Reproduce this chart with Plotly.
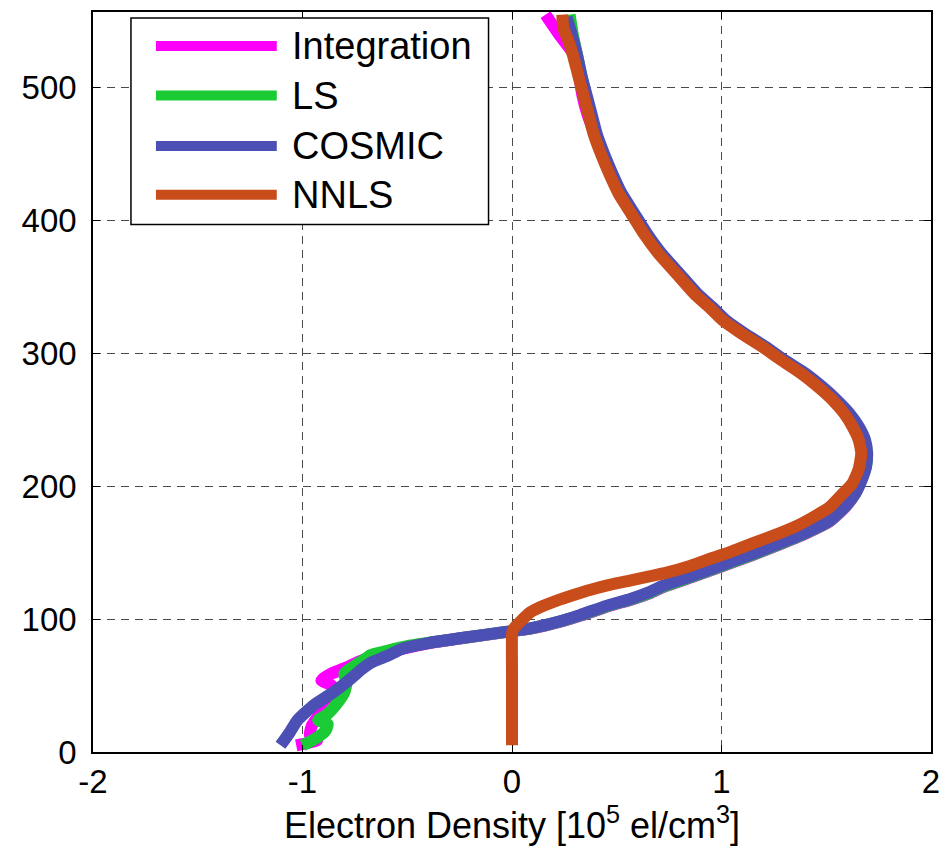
import plotly.graph_objects as go

# Electron density profiles (x in 1e5 el/cm^3) versus altitude (km)
alt_integration = [5, 9, 13, 20, 28, 38, 46, 50, 54, 58, 63, 68, 72, 78, 82, 86, 90, 93, 98,
                   103, 110, 115, 120, 125, 132, 140, 148, 157, 165, 174, 185, 195, 205, 215,
                   225, 235, 245, 255, 265, 275, 285, 295, 305, 315, 325, 335, 345, 360, 375,
                   390, 405, 420, 435, 450, 465, 480, 495, 510, 525, 540, 548, 555]
ne_integration = [-1.03, -0.93, -0.965, -0.955, -0.92, -0.87, -0.84, -0.86, -0.91, -0.875,
                  -0.80, -0.73, -0.66, -0.515, -0.395, -0.225, -0.04, 0.095, 0.23, 0.335,
                  0.465, 0.575, 0.665, 0.735, 0.865, 1.005, 1.145, 1.29, 1.41, 1.52, 1.595,
                  1.64, 1.665, 1.685, 1.69, 1.675, 1.645, 1.60, 1.54, 1.47, 1.39, 1.29, 1.20,
                  1.10, 1.01, 0.945, 0.875, 0.79, 0.705, 0.635, 0.575, 0.515, 0.47, 0.43,
                  0.395, 0.36, 0.335, 0.32, 0.295, 0.225, 0.19, 0.16]

alt_ls = [5, 11, 16, 21, 24, 28, 37, 45, 52, 59, 65, 70, 73, 76, 80, 86, 90, 93, 98, 103,
          110, 115, 120, 125, 132, 140, 148, 157, 165, 174, 185, 195, 205, 215, 225, 235,
          245, 255, 265, 275, 285, 295, 305, 315, 325, 335, 345, 360, 375, 390, 405, 420,
          435, 450, 465, 480, 495, 510, 525, 540, 555]
ne_ls = [-1.0, -0.929, -0.89, -0.88, -0.925, -0.885, -0.833, -0.80, -0.79, -0.80, -0.75,
         -0.70, -0.676, -0.60, -0.49, -0.228, -0.045, 0.09, 0.225, 0.33, 0.46, 0.57, 0.66,
         0.73, 0.86, 1.0, 1.14, 1.285, 1.405, 1.517, 1.592, 1.64, 1.667, 1.69, 1.695, 1.68,
         1.65, 1.605, 1.545, 1.475, 1.395, 1.295, 1.205, 1.105, 1.015, 0.95, 0.88, 0.795,
         0.71, 0.64, 0.58, 0.52, 0.475, 0.435, 0.40, 0.375, 0.35, 0.33, 0.31, 0.29, 0.275]

alt_cosmic = [5, 15, 24, 35, 45, 55, 62, 67, 72, 78, 82, 86, 90, 93, 98, 103, 110, 115, 120,
              125, 132, 140, 148, 157, 165, 174, 185, 195, 205, 215, 225, 235, 245, 255, 265,
              275, 285, 295, 305, 315, 325, 335, 345, 360, 375, 390, 405, 420, 435, 450, 465,
              480, 495, 510, 525, 540, 553]
ne_cosmic = [-1.105, -1.06, -1.024, -0.948, -0.852, -0.771, -0.72, -0.676, -0.60, -0.519,
             -0.40, -0.233, -0.05, 0.086, 0.22, 0.324, 0.45, 0.562, 0.65, 0.719, 0.85, 0.99,
             1.13, 1.276, 1.40, 1.514, 1.59, 1.64, 1.67, 1.69, 1.695, 1.685, 1.655, 1.61,
             1.55, 1.48, 1.40, 1.30, 1.21, 1.11, 1.02, 0.955, 0.885, 0.80, 0.715, 0.645,
             0.585, 0.525, 0.48, 0.44, 0.405, 0.38, 0.355, 0.33, 0.31, 0.285, 0.26]

alt_nnls = [5, 30, 60, 88, 92, 95, 99, 105, 110, 114, 118, 122, 126, 129, 132, 135, 140, 146,
            151, 157, 163, 170, 177, 184, 193, 202, 213, 225, 235, 245, 255, 265, 275, 285,
            295, 305, 315, 325, 335, 345, 360, 375, 390, 405, 420, 435, 450, 465, 480, 495,
            510, 525, 535, 545, 555]
ne_nnls = [0, 0, 0, 0, 0.005, 0.02, 0.045, 0.086, 0.15, 0.214, 0.29, 0.371, 0.47, 0.562,
           0.65, 0.738, 0.85, 0.957, 1.05, 1.148, 1.25, 1.357, 1.44, 1.514, 1.57, 1.624,
           1.655, 1.667, 1.655, 1.625, 1.585, 1.53, 1.46, 1.38, 1.285, 1.195, 1.095, 1.005,
           0.94, 0.87, 0.785, 0.70, 0.63, 0.57, 0.51, 0.465, 0.425, 0.39, 0.365, 0.34,
           0.315, 0.29, 0.27, 0.245, 0.24]

series_names = ["Integration", "LS", "COSMIC", "NNLS"]
series_colors = ["#FF00FF", "#1BCB35", "#4C4FB3", "#C94C1B"]
series_x = [ne_integration, ne_ls, ne_cosmic, ne_nnls]
series_y = [alt_integration, alt_ls, alt_cosmic, alt_nnls]

x_ticks = [-2, -1, 0, 1, 2]
x_tick_labels = ["-2", "-1", "0", "1", "2"]
y_ticks = [0, 100, 200, 300, 400, 500]
y_tick_labels = ["0", "100", "200", "300", "400", "500"]

FONT = "Liberation Sans, Arial, sans-serif"

fig = go.Figure()
for name, color, xs, ys in zip(series_names, series_colors, series_x, series_y):
    fig.add_trace(go.Scatter(x=xs, y=ys, mode="lines", name=name,
                             line=dict(color=color, width=12, shape="spline", smoothing=0.5),
                             showlegend=False))

axis_common = dict(
    showline=True, linecolor="black", linewidth=1.5, mirror="ticks",
    ticks="inside", ticklen=7, tickcolor="black", tickwidth=1,
    showgrid=True, gridcolor="#4a4a4a", gridwidth=1, griddash="8px,6px",
    zeroline=False, tickfont=dict(family=FONT, size=33, color="black"),
)

fig.update_xaxes(range=[-2, 2], tickvals=x_ticks, ticktext=x_tick_labels,
                 title=dict(text="Electron Density [10<sup>5</sup> el/cm<sup>3</sup>]",
                            font=dict(family=FONT, size=36, color="black"), standoff=4),
                 ticklabelstandoff=0, **axis_common)
fig.update_yaxes(range=[0, 557], tickvals=y_ticks, ticktext=y_tick_labels,
                 ticklabelstandoff=8, **axis_common)

# Legend drawn as a framed box with long line samples
box_x0, box_x1, box_y0, box_y1 = 0.0453, 0.472, 0.713, 0.992
fig.add_shape(type="rect", xref="paper", yref="paper", x0=box_x0, x1=box_x1,
              y0=box_y0, y1=box_y1, line=dict(color="black", width=1.5),
              fillcolor="white", layer="above")
row_y = [0.954, 0.887, 0.819, 0.753]
for name, color, ry in zip(series_names, series_colors, row_y):
    fig.add_shape(type="line", xref="paper", yref="paper", x0=0.0751, x1=0.2193,
                  y0=ry, y1=ry, line=dict(color=color, width=10), layer="above")
    fig.add_annotation(xref="paper", yref="paper", x=0.2348, y=ry, text=name,
                       showarrow=False, xanchor="left", yanchor="middle",
                       font=dict(family=FONT, size=38, color="black"))

fig.update_layout(
    width=950, height=850,
    margin=dict(l=93, r=18, t=10, b=98),
    plot_bgcolor="white", paper_bgcolor="white",
    font=dict(family=FONT, color="black"),
)

fig.write_html("out.html")
